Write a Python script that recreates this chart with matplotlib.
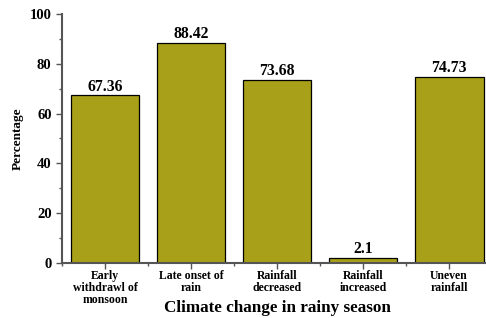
import numpy as np
import matplotlib.pyplot as plt
from matplotlib.ticker import MultipleLocator

# --- Data ---
categories = ["Early\nwithdrawl of\nmonsoon", "Late onset of\nrain", "Rainfall\ndecreased",
              "Rainfall\nincreased", "Uneven\nrainfall"]
values = [67.36, 88.42, 73.68, 2.1, 74.73]
labels = ["67.36", "88.42", "73.68", "2.1", "74.73"]

plt.rcParams['font.family'] = ['Liberation Serif', 'DejaVu Serif']
plt.rcParams['font.weight'] = 'bold'

fig = plt.figure(figsize=(4.86, 3.18), dpi=100)
ax = fig.add_axes([0.1276, 0.173, 0.885, 0.783])

x = np.arange(len(categories))
ax.bar(x, values, width=0.8, color='#A8A018', edgecolor='black', linewidth=0.9)
for xi, v, lab in zip(x, values, labels):
    ax.text(xi, v + 0.3, lab, ha='center', va='bottom', fontsize=11.3, fontweight='bold')

ax.set_xlim(-0.5, len(categories) - 0.5)
ax.set_ylim(0, 100)
ax.set_xticks(x)
ax.set_xticklabels(categories, fontsize=8.5, fontweight='bold', linespacing=1.0)
ax.xaxis.set_minor_locator(MultipleLocator(1, offset=0.5))
ax.yaxis.set_major_locator(MultipleLocator(20))
ax.yaxis.set_minor_locator(MultipleLocator(10))
ax.tick_params(axis='y', labelsize=10.5, width=1, length=4, colors='#555555', labelcolor='black')
ax.tick_params(axis='y', which='minor', length=2.5, width=1, colors='#555555')
ax.tick_params(axis='x', which='major', length=4, width=1, colors='#555555', labelcolor='black', pad=1)
ax.tick_params(axis='x', which='minor', length=2.5, width=1, colors='#555555')

for s in ['top', 'right']:
    ax.spines[s].set_visible(False)
for s in ['left', 'bottom']:
    ax.spines[s].set_linewidth(1.5)
    ax.spines[s].set_color('#555555')

ax.set_xlabel("Climate change in rainy season", fontsize=12.3, fontweight='bold')
ax.xaxis.set_label_coords(0.571, 0.058, transform=fig.transFigure)
ax.set_ylabel("Percentage", fontsize=9.5, fontweight='bold', labelpad=4)

plt.savefig("out.png", dpi=100)
